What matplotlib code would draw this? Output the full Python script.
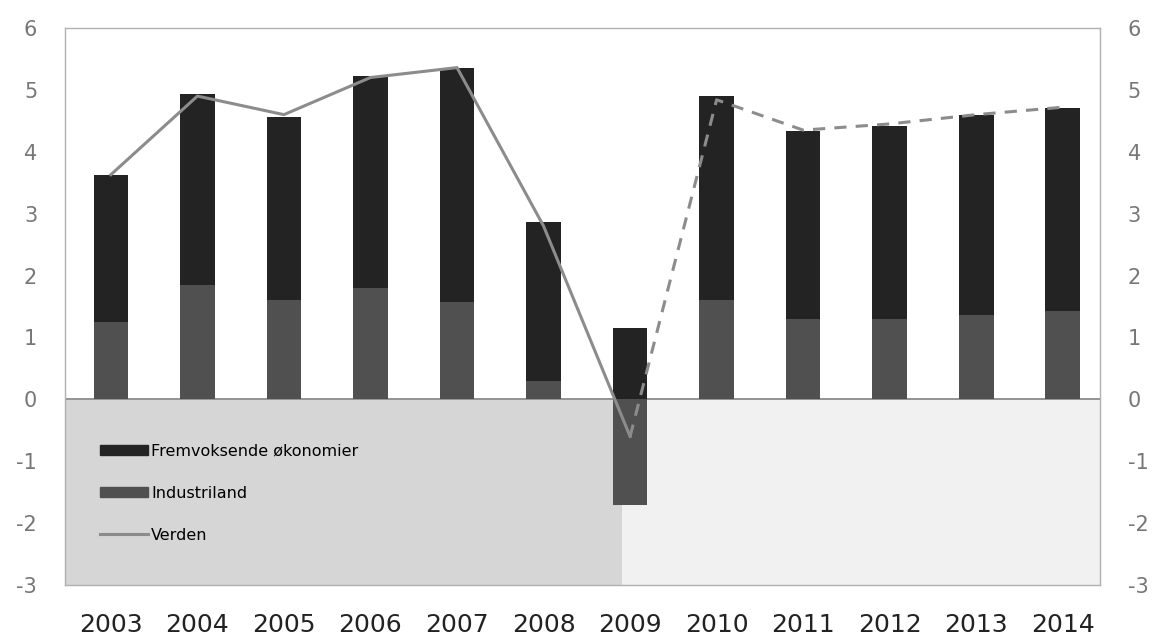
import numpy as np
import matplotlib.pyplot as plt
from matplotlib.patches import Rectangle
from matplotlib.lines import Line2D

plt.rcParams["axes.unicode_minus"] = False

years = ["2003", "2004", "2005", "2006", "2007", "2008", "2009",
         "2010", "2011", "2012", "2013", "2014"]
industriland = [1.25, 1.85, 1.6, 1.8, 1.57, 0.3, -1.7,
                1.61, 1.29, 1.29, 1.37, 1.43]
fremvoksende = [2.38, 3.08, 2.97, 3.42, 3.79, 2.56, 1.16,
                3.29, 3.04, 3.12, 3.23, 3.28]
verden = [3.63, 4.9, 4.6, 5.2, 5.36, 2.8, -0.6,
          4.84, 4.35, 4.45, 4.6, 4.72]
n_actual = 7  # 2003-2009 solid, forecast dashed from 2009

x = np.arange(len(years))
ind = np.array(industriland)
frem = np.array(fremvoksende)

fig = plt.figure(figsize=(11.62, 6.42), dpi=100)
ax = fig.add_axes([65 / 1162, 57 / 642, 1035 / 1162, 557 / 642])

# grey panel behind the legend (lower-left quadrant)
ax.add_patch(Rectangle((0, 0), 0.538, 0.333, transform=ax.transAxes,
                       facecolor="#d6d6d6", edgecolor="none", zorder=0))
ax.add_patch(Rectangle((0.538, 0), 0.462, 0.333, transform=ax.transAxes,
                       facecolor="#f1f1f1", edgecolor="none", zorder=0))

width = 0.4
ind_col = "#505050"
frem_col = "#232323"
bottom_frem = np.where(ind > 0, ind, 0)
ax.bar(x, ind, width, color=ind_col, zorder=2)
ax.bar(x, frem, width, bottom=bottom_frem, color=frem_col, zorder=2)

line_col = "#8c8c8c"
ax.plot(x[:n_actual], verden[:n_actual], color=line_col, lw=2.2, zorder=3)
ax.plot(x[n_actual - 1:], verden[n_actual - 1:], color=line_col, lw=2.2,
        ls=(0, (4, 3)), zorder=3)

ax.axhline(0, color="#8a8a8a", lw=1.3, zorder=1)

ax.set_xlim(-0.53, 11.43)
ax.set_ylim(-3, 6)
ax.set_yticks(range(-3, 7))
ax.set_xticks(x)
ax.set_xticklabels(years, fontsize=18, color="#222222")
ax.tick_params(axis="x", length=0, pad=20)
ax.tick_params(axis="y", length=0, labelsize=15, labelcolor="#777777",
               left=True, right=True, labelleft=True, labelright=True, pad=20)
for s in ax.spines.values():
    s.set_color("#b0b0b0")
    s.set_linewidth(1.0)

handles = [
    Rectangle((0, 0), 1, 1, color=frem_col),
    Rectangle((0, 0), 1, 1, color=ind_col),
    Line2D([0], [0], color=line_col, lw=2.2),
]
labels = ["Fremvoksende økonomier", "Industriland", "Verden"]
ax.legend(handles, labels, loc="lower left", bbox_to_anchor=(0.02, 0.05),
          frameon=False, fontsize=11.5, handlelength=3.0, handleheight=0.6,
          handletextpad=0.2, labelspacing=1.7)

fig.savefig("out.png", dpi=100)
